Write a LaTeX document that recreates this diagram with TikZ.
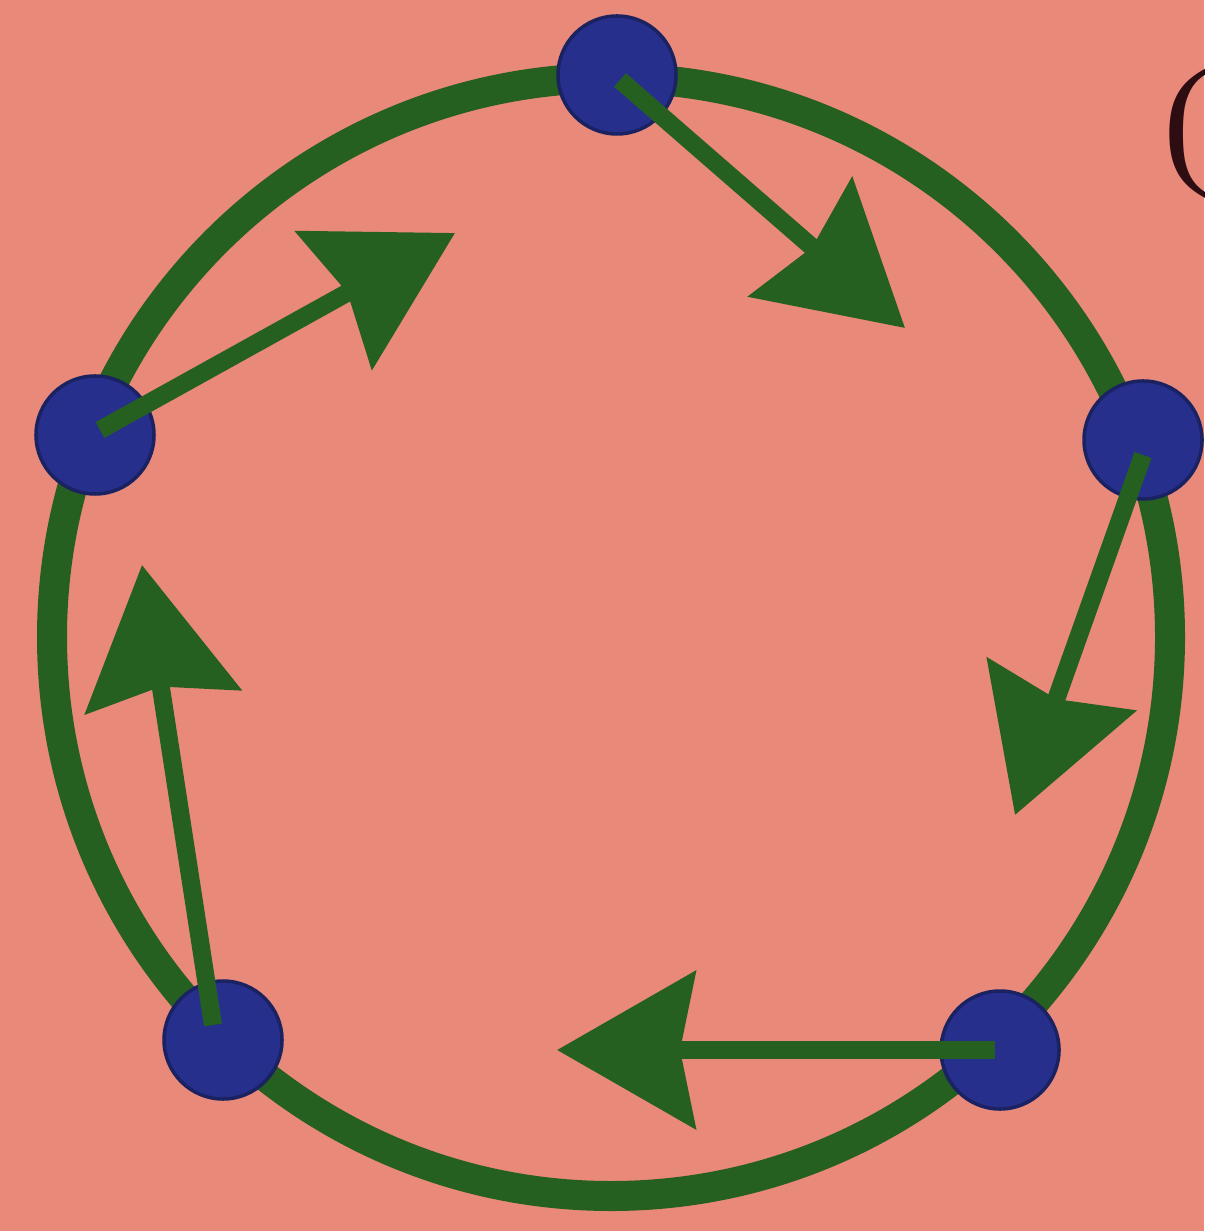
\documentclass[tikz,border=0pt]{standalone}
\usepackage{fontspec}
\setmainfont{Liberation Serif}
\usetikzlibrary{arrows.meta, calc}
\definecolor{fundo}{RGB}{233,137,121}
\definecolor{anelverde}{RGB}{38,96,32}
\definecolor{pontoazul}{RGB}{38,48,140}
\definecolor{textoescuro}{RGB}{45,12,18}

\begin{document}
\begin{tikzpicture}[
    dot/.style={
        circle,
        fill=pontoazul,
        draw=pontoazul!70!black,
        line width=1pt,
        minimum size=1.18cm,
        inner sep=0pt
    },
    seta/.style={
        anelverde,
        line width=0.18cm,
        -{Stealth[length=1.38cm, width=1.56cm, inset=0.15cm]}
    }
]

% ------------------------------------------------
% Fundo
% ------------------------------------------------
\fill[fundo] (0,0) rectangle (12.04,-12.31);
\clip (0,0) rectangle (12.04,-12.31);

\coordinate (centro) at (6.11,-6.37);

% ------------------------------------------------
% Anel
% ------------------------------------------------
\draw[anelverde, line width=0.3cm] (centro) circle (5.59);

% ------------------------------------------------
% Pontos sobre o anel
% ------------------------------------------------
\node[dot] (topo) at (6.17,-0.75) {};
\node[dot] (direita) at (11.43,-4.40) {};
\node[dot] (infdir) at (10.00,-10.50) {};
\node[dot] (infesq) at (2.23,-10.40) {};
\node[dot] (esquerda) at (0.95,-4.35) {};

% ------------------------------------------------
% Setas
% ------------------------------------------------
\coordinate (ponta1) at (9.05,-3.28);
\coordinate (ponta2) at (10.15,-8.15);
\coordinate (ponta3) at (5.57,-10.50);
\coordinate (ponta4) at (1.42,-5.65);
\coordinate (ponta5) at (4.55,-2.33);

\draw[seta] ($(topo.center)+(0.03,-0.05)$) -- (ponta1);
\draw[seta] ($(direita.center)+(0,-0.15)$) -- (ponta2);
\draw[seta] ($(infdir.center)+(-0.05,0)$) -- (ponta3);
\draw[seta] ($(infesq.center)+(-0.1,0.15)$) -- (ponta4);
\draw[seta] ($(esquerda.center)+(0.05,0.05)$) -- (ponta5);

% ------------------------------------------------
% Rótulo cortado
% ------------------------------------------------
\node[
    anchor=base west,
    inner sep=0pt,
    text=textoescuro,
    font=\fontsize{41}{41}\selectfont
] (rotulo) at (11.63,-1.69)
{(V};

\end{tikzpicture}
\end{document}
